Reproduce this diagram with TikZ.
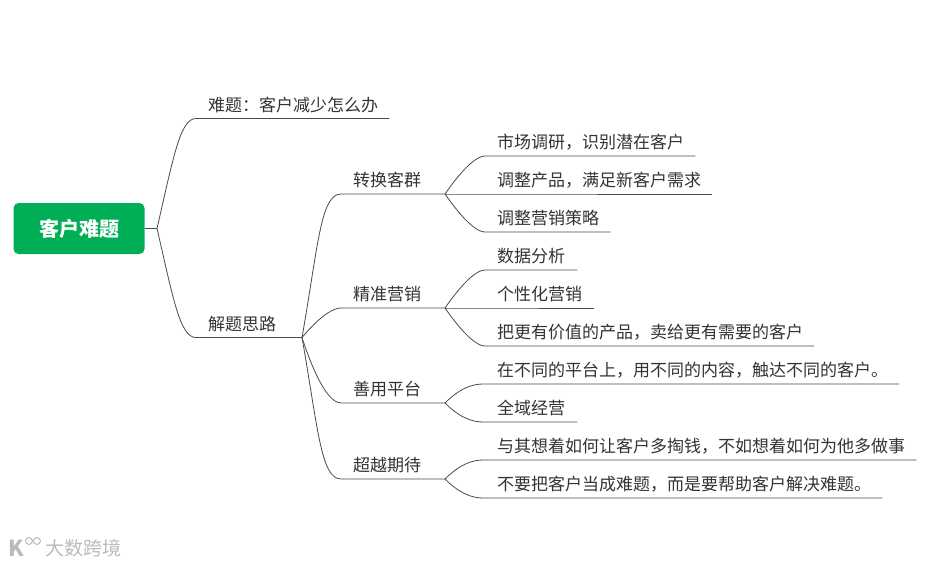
\documentclass[tikz,border=0pt]{standalone}
\usepackage{fontspec}
\setmainfont{Noto Sans CJK SC}
\definecolor{rootgreen}{HTML}{00AE55}
\definecolor{inkgray}{HTML}{333333}
\definecolor{linegray}{HTML}{4A4A4A}
\definecolor{markgray}{HTML}{BBBBBB}
\tikzset{
  topic/.style={anchor=south west,inner xsep=12pt,inner ysep=3pt,text depth=4pt,text height=14pt,
    align=left,text=inkgray,font=\fontsize{17pt}{20pt}\selectfont},
  rootbox/.style={fill=rootgreen,rounded corners=5pt,text=white,minimum width=131pt,minimum height=51pt,
    font=\fontsize{20pt}{24pt}\selectfont\bfseries},
  link/.style={draw=linegray,line width=0.8pt},
  swoop/.style={in=180,out looseness=1.6,in looseness=0.35},
  watermark/.style={text=markgray,inner sep=0pt,font=\fontsize{19pt}{22pt}\selectfont}
}
\begin{document}
\begin{tikzpicture}[x=1pt,y=-1pt]
  \useasboundingbox (0,0) rectangle (929,566);
  % root
  \node[rootbox] (root) at (79,228.5) {客户难题};
  \coordinate (jroot) at (157,228.5);
  \coordinate (jidea) at (302,337.5);
  \coordinate (jgroup) at (445,194);
  \coordinate (jprec) at (445,308);
  \coordinate (jplat) at (445,403);
  \coordinate (jover) at (445,479);
  % first level
  \node[topic,text width=169pt] (problem) at (196,118.5) {难题：客户减少怎么办};
  \node[topic,text width=82pt] (idea) at (196,337.5) {解题思路};
  % second level
  \node[topic,text width=81pt] (group) at (341,194) {转换客群};
  \node[topic,text width=81pt] (prec) at (341,308) {精准营销};
  \node[topic,text width=81pt] (plat) at (341,403) {善用平台};
  \node[topic,text width=81pt] (over) at (341,479) {超越期待};
  % third level
  \node[topic,text width=186pt] (group1) at (485,156) {市场调研，识别潜在客户};
  \node[topic,text width=203pt] (group2) at (485,194) {调整产品，满足新客户需求};
  \node[topic,text width=101pt] (group3) at (485,232) {调整营销策略};
  \node[topic,text width=68pt] (prec1) at (485,270) {数据分析};
  \node[topic,text width=85pt] (prec2) at (485,308) {个性化营销};
  \node[topic,text width=305pt] (prec3) at (485,346) {把更有价值的产品，卖给更有需要的客户};
  \node[topic,text width=390pt] (plat1) at (485,384) {在不同的平台上，用不同的内容，触达不同的客户。};
  \node[topic,text width=68pt] (plat2) at (485,422) {全域经营};
  \node[topic,text width=407pt] (over1) at (485,460) {与其想着如何让客户多掏钱，不如想着如何为他多做事};
  \node[topic,text width=373pt] (over2) at (485,498) {不要把客户当成难题，而是要帮助客户解决难题。};
  % connectors
  \draw[link] (root.east) -- (jroot);
  \draw[link] (jroot) to[swoop,out=77] (problem.south west) -- (problem.south east);
  \draw[link] (jroot) to[swoop,out=-77] (idea.south west) -- (idea.south east);
  \draw[link] (jidea) to[swoop,out=80] (group.south west) -- (group.south east);
  \draw[link] (jidea) to[swoop,out=50] (prec.south west) -- (prec.south east);
  \draw[link] (jidea) to[swoop,out=-72] (plat.south west) -- (plat.south east);
  \draw[link] (jidea) to[swoop,out=-80] (over.south west) -- (over.south east);
  \draw[link] (jgroup) to[swoop,out=55] (group1.south west) -- (group1.south east);
  \draw[link] (jgroup) -- (group2.south west) -- (group2.south east);
  \draw[link] (jgroup) to[swoop,out=-55] (group3.south west) -- (group3.south east);
  \draw[link] (jprec) to[swoop,out=55] (prec1.south west) -- (prec1.south east);
  \draw[link] (jprec) -- (prec2.south west) -- (prec2.south east);
  \draw[link] (jprec) to[swoop,out=-55] (prec3.south west) -- (prec3.south east);
  \draw[link] (jplat) to[swoop,out=45] (plat1.south west) -- (plat1.south east);
  \draw[link] (jplat) to[swoop,out=-45] (plat2.south west) -- (plat2.south east);
  \draw[link] (jover) to[swoop,out=45] (over1.south west) -- (over1.south east);
  \draw[link] (jover) to[swoop,out=-45] (over2.south west) -- (over2.south east);
  % watermark
  \node[watermark,anchor=west] (mark) at (45,548) {大数跨境};
  \node[watermark,anchor=west,font=\fontsize{22pt}{24pt}\selectfont\bfseries] (logo) at (8,548) {K};
  \draw[markgray,line width=1pt] (29,541) circle (3.5) (37,541) circle (3.5);
\end{tikzpicture}
\end{document}
